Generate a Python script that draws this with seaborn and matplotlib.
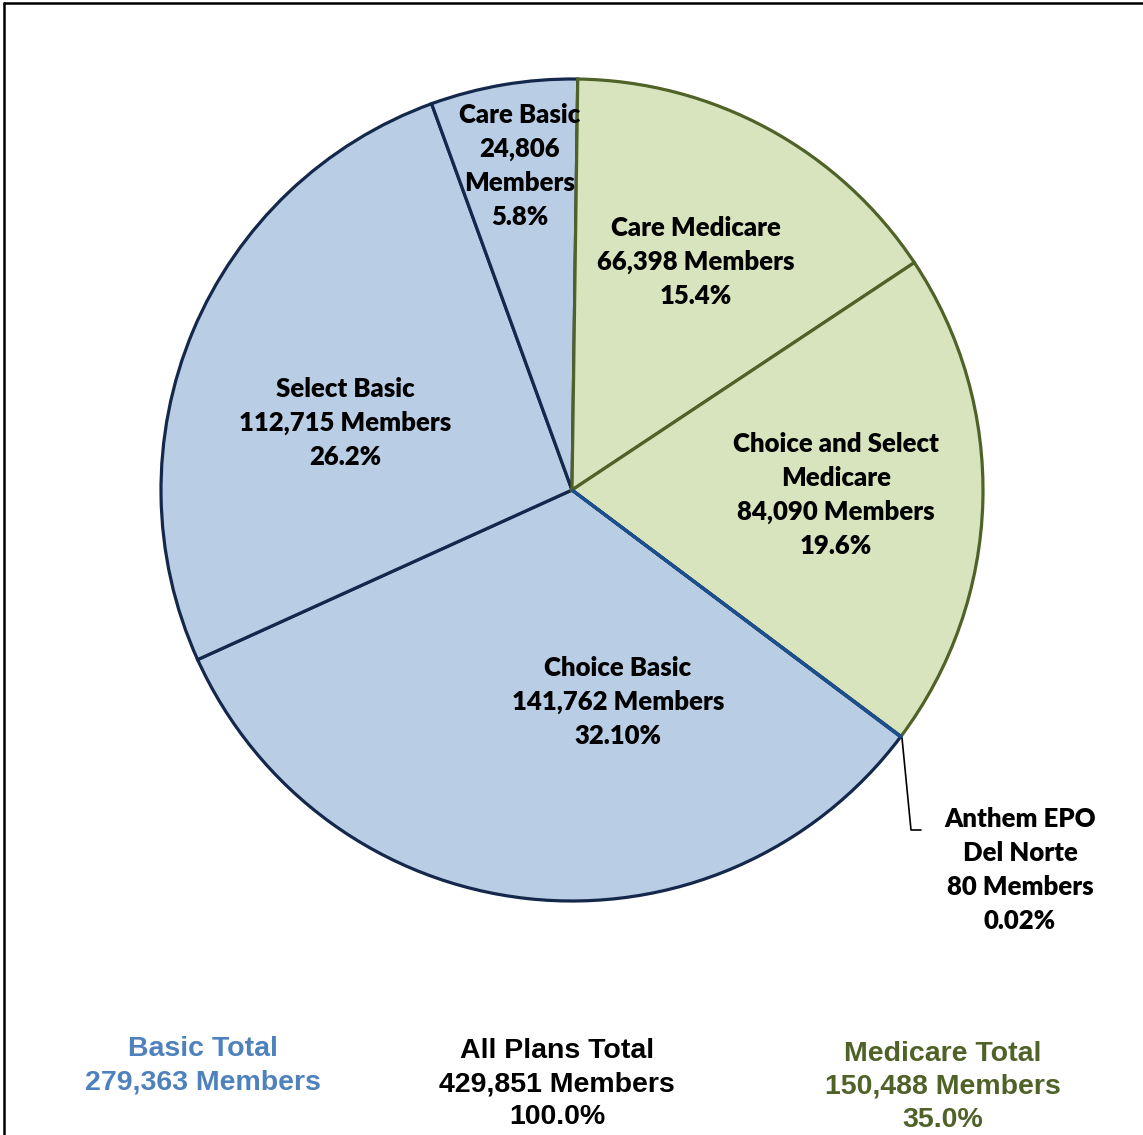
import matplotlib
matplotlib.use("Agg")
import matplotlib.pyplot as plt
import seaborn as sns
from matplotlib import font_manager

# slice data, clockwise from the top
plans = ["Care Medicare", "Choice and Select Medicare", "Anthem EPO Del Norte",
         "Choice Basic", "Select Basic", "Care Basic"]
members = [66398, 84090, 80, 141762, 112715, 24806]
groups = ["medicare", "medicare", "epo", "basic", "basic", "basic"]
slice_labels = [
    "Care Medicare\n66,398 Members\n15.4%",
    "Choice and Select\nMedicare\n84,090 Members\n19.6%",
    "Anthem EPO\nDel Norte\n80 Members\n0.02%",
    "Choice Basic\n141,762 Members\n32.10%",
    "Select Basic\n112,715 Members\n26.2%",
    "Care Basic\n24,806\nMembers\n5.8%",
]

total_titles = ["Basic Total", "All Plans Total", "Medicare Total"]
total_members = ["279,363 Members", "429,851 Members", "150,488 Members"]
total_pcts = ["", "100.0%", "35.0%"]

fill = {"basic": "#b9cde5", "medicare": "#d7e4bd", "epo": "#b9cde5"}
edge = {"basic": "#14284b", "medicare": "#4f6228", "epo": "#1f4e8c"}
total_colors = ["#4f81bd", "#000000", "#4f6228"]

sns.set_theme(style="white")
avail = {f.name for f in font_manager.fontManager.ttflist}
label_font = ["Lato", "DejaVu Sans"] if "Lato" in avail else ["DejaVu Sans"]
total_font = ["Liberation Sans", "DejaVu Sans"]
plt.rcParams["font.family"] = label_font
plt.rcParams["text.color"] = "black"

W, H = 1143, 1135
fig = plt.figure(figsize=(W / 100, H / 100), dpi=100)
ax = fig.add_axes([0, 0, 1, 1])

cx, cy, r = 572, H - 490, 411
wedges, _ = ax.pie(
    members,
    center=(cx, cy),
    radius=r,
    startangle=89.2,
    counterclock=False,
    colors=[fill[g] for g in groups],
    wedgeprops=dict(linewidth=2.3),
    frame=True,
)
ax.set_xlim(0, W)
ax.set_ylim(0, H)
ax.set_aspect("equal")
ax.axis("off")
zorders = {"basic": 1, "medicare": 2, "epo": 3}
for w, g in zip(wedges, groups):
    w.set_edgecolor(edge[g])
    w.set_zorder(zorders[g])

# label positions (pixel centres)
label_pos = [(696, 262), (836, 495), (1020, 870), (618, 702), (345, 423), (520, 166)]
for text, (x, y) in zip(slice_labels, label_pos):
    ax.text(x, H - y, text, ha="center", va="center", fontsize=18.5,
            fontweight="heavy", linespacing=1.5, color="black", zorder=5)

# leader line for the tiny EPO slice
ax.plot([902, 911, 921], [H - 738, H - 830, H - 830], color="black", lw=1.2, zorder=4)

# totals at the bottom
total_x = [203, 557, 943]
total_y = [1066, 1084, 1087]
for title, mem, pct, col, x, y in zip(total_titles, total_members, total_pcts,
                                      total_colors, total_x, total_y):
    lines = [title, mem] + ([pct] if pct else [])
    ax.text(x, H - y, "\n".join(lines), ha="center", va="center", fontsize=20.5,
            fontweight="bold", color=col, family=total_font, linespacing=1.35)

# border on the left and top only
fig.add_artist(plt.Line2D([0.0035, 0.0035], [0, 0.9975], transform=fig.transFigure,
                          color="black", lw=1.8))
fig.add_artist(plt.Line2D([0.0035, 1], [0.9975, 0.9975], transform=fig.transFigure,
                          color="black", lw=1.8))

fig.savefig("out.png", dpi=100, facecolor="white")
